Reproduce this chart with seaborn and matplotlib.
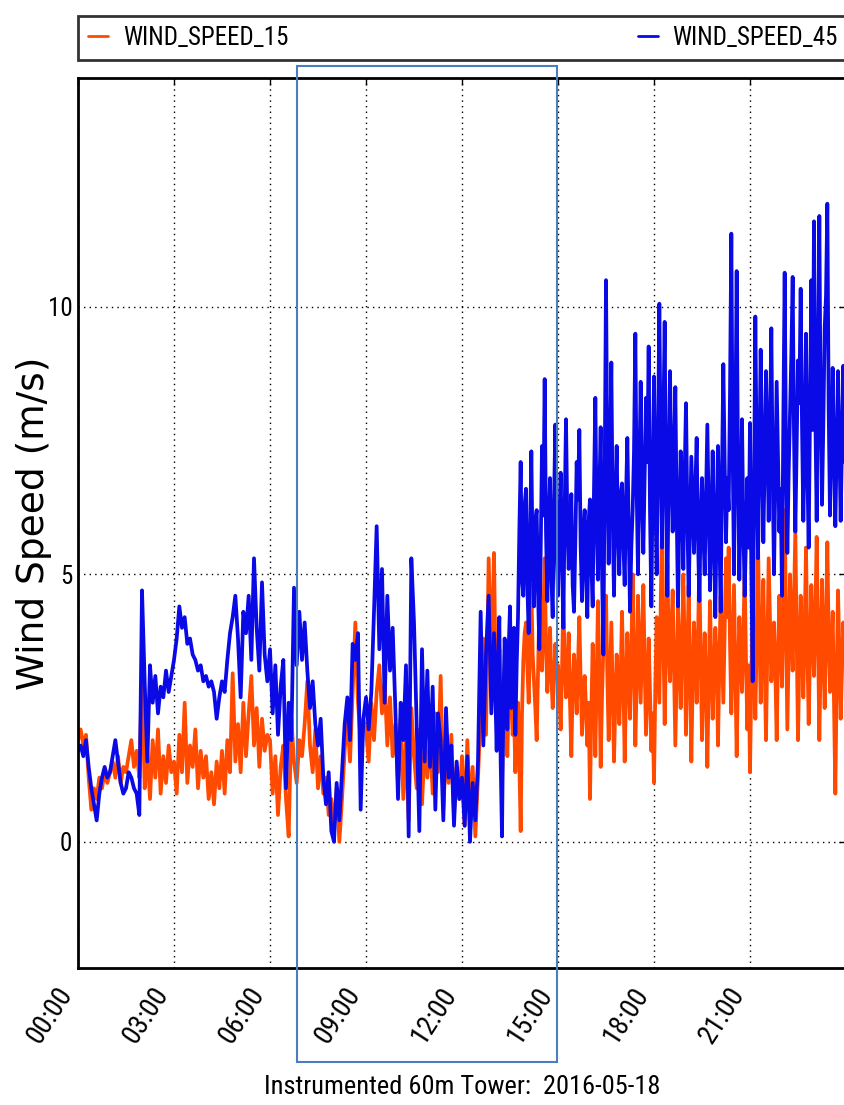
"""Wind speed time series at two heights, instrumented 60m tower, 2016-05-18."""
import matplotlib
matplotlib.use('Agg')
import matplotlib.pyplot as plt
from matplotlib import font_manager
from matplotlib.font_manager import FontProperties
from matplotlib.patches import Rectangle
import pandas as pd
import seaborn as sns

# 00:00-12:55, 5-minute samples, one hour per line
ws15_am = [
    1.9, 2.1, 1.8, 2.0, 1.2, 0.6, 1.0, 0.8, 1.2, 1.0, 1.3, 1.1,
    1.3, 1.5, 1.2, 1.6, 1.1, 1.4, 1.3, 1.6, 1.9, 1.4, 1.7, 1.2,
    3.2, 1.0, 1.7, 0.8, 1.9, 1.2, 2.1, 0.9, 1.6, 1.1, 1.8, 1.3,
    1.5, 0.9, 2.0, 1.3, 2.6, 1.1, 1.8, 1.4, 2.1, 1.0, 1.7, 1.2,
    1.6, 0.8, 1.3, 0.7, 1.5, 1.0, 1.7, 0.9, 1.9, 1.3, 3.15, 1.5,
    2.2, 1.3, 2.6, 1.6, 2.4, 3.1, 1.8, 2.5, 1.4, 2.3, 1.7, 2.0,
    1.9, 0.9, 1.6, 0.5, 1.4, 1.8, 0.8, 0.1, 2.3, 1.5, 1.1, 1.9,
    1.6, 2.2, 3.0, 1.8, 1.3, 2.1, 1.0, 1.6, 0.9, 1.2, 0.5, 0.8,
    0.3, 1.0, 0.0, 0.8, 1.7, 2.4, 1.5, 2.8, 4.1, 2.6, 1.9, 2.3,
    2.1, 1.5, 2.6, 1.9, 2.8, 3.3, 2.4, 3.0, 1.8, 2.7, 1.6, 2.2,
    1.1, 2.3, 0.8, 1.9, 0.4, 2.5, 1.6, 1.0, 2.1, 0.7, 1.8, 1.2,
    2.0, 0.9, 2.4, 1.3, 3.1, 0.6, 1.7, 1.1, 2.0, 0.5, 1.4, 0.8,
    1.6, 0.3, 1.9, 0.5, 1.4, 0.1, 1.2, 2.4, 3.8, 2.0, 5.3, 3.1,
]
ws45_am = [
    1.7, 1.8, 1.6, 1.9, 1.4, 1.0, 0.7, 0.4, 0.9, 1.2, 1.4, 1.2,
    1.3, 1.6, 1.9, 1.5, 1.1, 0.9, 1.0, 1.3, 1.2, 1.0, 0.9, 0.5,
    4.7, 3.0, 1.5, 3.3, 2.6, 3.1, 2.4, 2.9, 2.7, 3.2, 2.8, 3.1,
    3.4, 3.8, 4.4, 4.0, 4.2, 3.7, 3.8, 3.5, 3.4, 3.2, 3.3, 3.0,
    3.1, 2.9, 3.0, 2.8, 2.3, 2.7, 3.0, 2.8, 3.4, 3.9, 4.2, 4.6,
    3.8, 2.7, 4.3, 3.9, 4.6, 3.4, 5.3, 4.0, 3.2, 4.85, 3.5, 3.0,
    3.6, 2.4, 3.3, 2.0, 2.9, 3.4, 1.0, 2.6, 1.9, 4.75, 3.3, 4.3,
    3.4, 4.1, 3.2, 2.5, 3.0, 2.2, 1.8, 2.3, 1.2, 0.7, 1.3, 0.2,
    0.0, 1.1, 0.4, 1.3, 2.2, 2.7, 1.9, 3.7, 3.4, 3.9, 0.6, 2.3,
    2.7, 2.1, 2.8, 4.3, 5.9, 3.6, 5.1, 2.6, 4.6, 3.2, 4.0, 2.5,
    0.8, 2.6, 1.9, 3.3, 0.1, 5.3, 4.1, 2.2, 0.2, 3.6, 1.5, 3.2,
    1.4, 2.9, 0.6, 2.4, 1.9, 0.4, 2.5, 1.2, 1.8, 0.3, 1.5, 0.8,
    1.2, 0.3, 1.6, 0.0, 1.1, 0.4, 1.5, 4.3, 1.8, 3.5, 4.6, 2.4,
]

# 13:00-23:57.5, 2.5-minute samples, one hour per line
ws15_pm = [
    5.4, 3.5, 2.3, 2.9, 3.6, 2.0, 1.1, 2.2, 2.8, 2.4, 1.6, 2.7, 3.3, 2.6, 2.0, 2.5, 1.3, 2.1, 2.6, 1.5, 0.2, 2.4, 3.4, 3.9,
    4.1, 3.3, 2.6, 3.7, 4.8, 3.5, 3.0, 2.5, 1.9, 3.2, 4.4, 3.6, 3.2, 4.1, 5.3, 3.7, 2.8, 3.4, 4.0, 3.1, 2.5, 3.0, 3.7, 3.2,
    3.3, 2.8, 2.1, 3.2, 4.5, 3.4, 2.7, 3.1, 3.9, 2.6, 1.6, 2.9, 3.5, 3.0, 2.4, 3.3, 4.2, 3.0, 2.0, 2.7, 3.1, 2.5, 1.8, 2.6,
    0.8, 2.4, 3.7, 2.9, 1.6, 3.0, 4.5, 3.2, 1.4, 2.7, 3.6, 3.9, 4.6, 3.1, 1.9, 3.0, 4.1, 2.8, 1.5, 2.6, 3.5, 3.0, 2.2, 3.1,
    4.3, 3.1, 1.5, 2.8, 3.9, 3.2, 2.3, 3.5, 5.0, 3.4, 1.8, 3.0, 4.6, 3.6, 2.6, 3.7, 4.8, 3.3, 2.0, 2.9, 3.8, 2.8, 1.7, 2.4,
    1.1, 2.9, 4.2, 3.4, 2.6, 4.4, 6.1, 3.9, 2.2, 3.6, 5.2, 3.8, 3.0, 3.9, 4.7, 3.2, 1.8, 3.1, 4.4, 3.5, 2.5, 3.7, 5.0, 3.6,
    2.0, 3.4, 4.8, 3.3, 1.5, 3.0, 4.1, 3.5, 2.6, 3.8, 5.2, 3.4, 1.9, 3.1, 3.9, 2.9, 1.4, 3.0, 4.5, 3.3, 2.3, 3.2, 4.0, 3.4,
    1.8, 3.3, 4.6, 3.6, 2.6, 3.9, 5.3, 4.2, 5.5, 3.7, 2.4, 3.6, 4.8, 3.2, 1.6, 3.1, 4.2, 3.5, 2.8, 3.9, 5.0, 3.4, 2.1, 3.3,
    1.3, 3.0, 4.4, 3.5, 2.3, 3.8, 5.6, 4.0, 2.6, 3.7, 4.9, 3.3, 1.9, 3.6, 5.3, 4.1, 3.0, 3.5, 4.1, 3.2, 1.9, 3.4, 4.6, 3.7,
    2.9, 4.4, 6.2, 4.1, 2.1, 3.6, 5.0, 4.0, 3.2, 4.5, 5.8, 3.9, 1.9, 3.4, 4.6, 3.8, 2.7, 4.0, 5.5, 3.7, 2.2, 3.5, 4.8, 3.9,
    3.1, 4.2, 5.7, 3.9, 1.9, 3.4, 4.9, 3.6, 2.5, 4.1, 5.6, 3.8, 2.8, 3.5, 4.3, 2.6, 0.9, 3.0, 4.7, 3.6, 2.3, 3.2, 4.1, 3.5,
]
ws45_pm = [
    3.9, 2.8, 1.7, 3.4, 4.2, 1.5, 0.1, 2.6, 3.8, 3.1, 2.1, 3.6, 4.4, 2.5, 3.0, 4.0, 2.0, 3.3, 4.2, 5.8, 7.1, 4.9, 4.6, 6.3,
    6.6, 4.8, 3.9, 5.6, 7.3, 5.2, 4.4, 6.0, 6.2, 4.7, 3.6, 5.4, 7.4, 6.1, 8.65, 5.8, 4.5, 5.9, 6.8, 5.0, 4.2, 6.3, 7.8, 5.5,
    4.6, 5.9, 6.9, 5.3, 4.0, 6.2, 7.9, 6.0, 5.1, 5.7, 6.5, 4.8, 4.3, 5.6, 7.1, 6.4, 7.7, 5.5, 4.5, 5.8, 6.2, 5.0, 4.2, 6.0,
    6.4, 5.2, 4.4, 6.6, 8.3, 6.0, 4.9, 6.5, 7.75, 5.1, 3.5, 6.8, 10.5, 7.0, 5.2, 7.2, 8.96, 6.1, 4.6, 6.3, 7.4, 5.8, 5.0, 6.5,
    6.7, 5.6, 4.8, 6.4, 7.55, 5.9, 4.3, 5.5, 6.2, 7.3, 9.5, 6.6, 5.0, 6.9, 8.6, 6.4, 5.4, 6.8, 8.3, 7.1, 9.26, 6.2, 4.4, 6.7,
    8.7, 6.5, 5.0, 7.4, 10.06, 7.2, 5.5, 7.8, 9.72, 6.6, 4.6, 6.9, 8.8, 7.0, 5.8, 7.3, 8.5, 6.2, 4.4, 6.0, 7.3, 6.4, 5.1, 6.9,
    8.2, 6.1, 4.6, 5.9, 7.2, 6.3, 5.4, 6.6, 7.55, 5.7, 4.5, 6.0, 6.8, 5.8, 5.0, 6.4, 7.8, 6.2, 4.7, 5.9, 7.3, 5.6, 4.2, 6.1,
    7.4, 5.8, 4.3, 6.9, 8.93, 7.1, 5.6, 6.8, 6.2, 8.4, 11.37, 7.3, 5.0, 7.6, 10.67, 7.0, 4.9, 6.3, 7.9, 5.9, 4.6, 5.7, 6.8, 5.5,
    7.83, 5.1, 3.0, 6.4, 9.82, 7.2, 5.3, 7.0, 9.2, 7.4, 5.6, 7.1, 8.8, 7.5, 6.0, 7.7, 9.6, 6.9, 5.0, 6.8, 8.6, 7.2, 5.8, 6.6,
    4.6, 7.9, 10.64, 7.3, 5.4, 6.9, 8.0, 9.1, 10.56, 7.6, 5.8, 7.4, 9.0, 8.2, 10.34, 7.8, 6.0, 7.5, 9.5, 7.0, 5.5, 8.1, 10.5, 7.7,
    11.6, 8.0, 6.0, 8.9, 11.7, 7.9, 6.3, 7.8, 9.6, 10.2, 11.93, 8.1, 6.1, 7.6, 8.86, 7.2, 5.9, 7.3, 8.8, 7.5, 6.0, 7.4, 8.9, 7.1,
]

series_labels = ['WIND_SPEED_15', 'WIND_SPEED_45']
series_colors = ['#ff4a00', '#0a0ae6']
y_ticks = [0, 5, 10]
x_tick_hours = [0, 3, 6, 9, 12, 15, 18, 21]
day = '2016-05-18'
title_text = 'Instrumented 60m Tower:  ' + day

times = pd.date_range(day + ' 00:00', periods=len(ws15_am), freq='5min').append(
    pd.date_range(day + ' 13:00', periods=len(ws15_pm), freq='150s'))
df = pd.DataFrame({'time': times,
                   series_labels[0]: ws15_am + ws15_pm,
                   series_labels[1]: ws45_am + ws45_pm})

sns.set_style('white')
plt.rcParams['font.family'] = ['DejaVu Sans']
for key in ['text.color', 'axes.labelcolor', 'xtick.color', 'ytick.color']:
    plt.rcParams[key] = 'black'

# narrow face for the horizontal texts, if one is installed
installed = {f.name for f in font_manager.fontManager.ttflist}
narrow_name = next((n for n in ['Liberation Sans Narrow', 'Roboto Condensed',
                                'Open Sans Condensed', 'DejaVu Sans Condensed']
                    if n in installed), None)
if narrow_name:
    narrow = FontProperties(family=narrow_name)
    scale = 1.0
else:
    narrow = FontProperties(family='DejaVu Sans', stretch='condensed')
    scale = 0.8

W, H = 844, 1105
fig = plt.figure(figsize=(W / 100, H / 100), dpi=100)
ax = fig.add_axes([78 / W, 137 / H, 768 / W, 890 / H])

for name, col in zip(series_labels, series_colors):
    sns.lineplot(data=df, x='time', y=name, color=col, lw=2.7, label=name,
                 estimator=None, ax=ax, legend=False)

start = pd.Timestamp(day)
ax.set_xlim(start, start + pd.Timedelta(hours=24))
ax.set_ylim(-2.36, 14.28)
ax.set_yticks(y_ticks)
xt = [start + pd.Timedelta(hours=h) for h in x_tick_hours]
ax.set_xticks(xt)
ax.set_xticklabels([t.strftime('%H:%M') for t in xt])

ax.grid(True, color='black', linestyle=(0, (1, 3)), linewidth=1)
for sp in ax.spines.values():
    sp.set_linewidth(2)
    sp.set_color('black')
ax.tick_params(direction='in', length=5, width=1, top=True, right=True)
ax.tick_params(axis='y', pad=4)
ax.tick_params(axis='x', pad=10)

for lab in ax.get_yticklabels():
    lab.set_fontproperties(narrow)
    lab.set_fontsize(18 * scale)
for lab in ax.get_xticklabels():
    lab.set_fontproperties(narrow)
    lab.set_fontsize(20 * scale)
    lab.set_rotation(57)
    lab.set_ha('right')

ax.set_ylabel('Wind Speed (m/s)', fontsize=27, va='center')
ax.yaxis.set_label_coords(-44 / 768, 0.5)
ax.set_xlabel(title_text, fontproperties=narrow, fontsize=19 * scale, va='center')
ax.xaxis.set_label_coords(0.5, -(1087 - 968) / 890)

handles, labels = ax.get_legend_handles_labels()
leg_prop = narrow.copy()
leg_prop.set_size(18 * scale)
leg = fig.legend(handles, labels, loc='lower left', ncol=2, mode='expand',
                 bbox_to_anchor=(78 / W, 1045 / H, 770 / W, 49 / H),
                 bbox_transform=fig.transFigure, borderaxespad=0,
                 frameon=True, fancybox=False, handlelength=0.8,
                 handletextpad=0.6, prop=leg_prop)
leg.get_frame().set_edgecolor('black')
leg.get_frame().set_linewidth(2)
for line in leg.get_lines():
    line.set_linewidth(2)

# highlight box drawn over the figure
fig.add_artist(Rectangle((297 / W, 43 / H), 260 / W, 996 / H, transform=fig.transFigure,
                         fill=False, edgecolor='#4a7ebf', lw=1.5, zorder=10))

fig.savefig('out.png', dpi=100)
